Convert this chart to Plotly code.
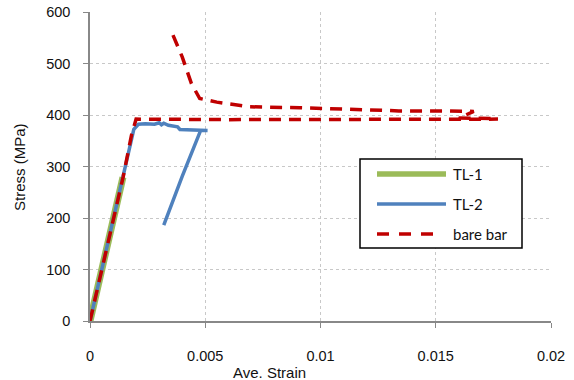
import plotly.graph_objects as go

# ---- data ----
tl1_strain = [0, 0.0005, 0.001, 0.00143]
tl1_stress = [0, 98, 196, 279]

tl2_strain = [0, 0.0005, 0.001, 0.0015, 0.0017, 0.0019, 0.0021, 0.0024, 0.0028, 0.0030,
              0.0031, 0.0032, 0.0034, 0.0036, 0.0038, 0.0039, 0.0044, 0.0051, 0.0048,
              0.0040, 0.0032]
tl2_stress = [0, 98, 196, 295, 340, 372, 382, 383, 382, 385,
              381, 384, 380, 379, 377, 372, 371, 370, 370,
              281, 186]

bare_strain = [0, 0.0005, 0.001, 0.00144, 0.0018, 0.002, 0.006, 0.010, 0.014, 0.0177,
               None,
               0.0036, 0.0040, 0.0044, 0.00476, 0.0055, 0.0069, 0.0091, 0.0112, 0.0134,
               0.0156, 0.01665, 0.0160, 0.0177]
bare_stress = [0, 97, 195, 280, 361, 392, 391, 391, 391, 392,
               None,
               555, 513, 461, 432, 425, 416, 414, 411, 408,
               408, 407, 394, 393]

series_names = ["TL-1", "TL-2", "bare bar"]
series_colors = ["#9BBB59", "#4F81BD", "#C00000"]

x_ticks = [0, 0.005, 0.01, 0.015, 0.02]
y_ticks = [0, 100, 200, 300, 400, 500, 600]
x_title = "Ave. Strain"
y_title = "Stress (MPa)"

fig = go.Figure()
fig.add_trace(go.Scatter(x=tl1_strain, y=tl1_stress, mode="lines", name=series_names[0],
                         line=dict(color=series_colors[0], width=7), showlegend=False))
fig.add_trace(go.Scatter(x=tl2_strain, y=tl2_stress, mode="lines", name=series_names[1],
                         line=dict(color=series_colors[1], width=3.5), showlegend=False))
fig.add_trace(go.Scatter(x=bare_strain, y=bare_stress, mode="lines", name=series_names[2],
                         line=dict(color=series_colors[2], width=3.5, dash="12px,8px"),
                         connectgaps=False, showlegend=False))

tick_font = dict(family="Liberation Sans, Arial, sans-serif", size=14.5, color="#111")
title_font = dict(family="Liberation Sans, Arial, sans-serif", size=15, color="#111")

fig.update_layout(
    width=574, height=380,
    margin=dict(l=90, r=23, t=12, b=59, autoexpand=False),
    paper_bgcolor="white", plot_bgcolor="white",
    font=tick_font,
    xaxis=dict(range=[0, 0.02], tickvals=x_ticks, ticktext=[str(v) for v in x_ticks],
               showgrid=True, gridcolor="#c8c8c8", griddash="3px,3px", gridwidth=1,
               zeroline=False, showline=True, linecolor="#888", linewidth=1.5,
               ticks="outside", ticklen=5, tickcolor="#888", automargin=False,
               ticklabelstandoff=16, tickfont=tick_font),
    yaxis=dict(range=[0, 600], tickvals=y_ticks,
               showgrid=True, gridcolor="#c8c8c8", griddash="3px,3px", gridwidth=1,
               zeroline=False, showline=True, linecolor="#888", linewidth=1.5,
               ticks="outside", ticklen=5, tickcolor="#888", automargin=False,
               ticklabelstandoff=10, tickfont=tick_font),
)

# ---- helpers: pixel -> paper coordinates of the plot area ----
def px_x(p):
    return (p - 90) / 461.0

def px_y(p):
    return (321 - p) / 309.0

# axis titles
fig.add_annotation(xref="paper", yref="paper", x=px_x(269), y=px_y(372), text=x_title,
                   showarrow=False, xanchor="center", yanchor="middle", font=title_font)
fig.add_annotation(xref="paper", yref="paper", x=px_x(20), y=px_y(167), text=y_title,
                   showarrow=False, xanchor="center", yanchor="middle", textangle=-90,
                   font=title_font)

# ---- manual legend (box, line samples, labels) ----
fig.add_shape(type="rect", xref="paper", yref="paper",
              x0=px_x(360), x1=px_x(522), y0=px_y(248), y1=px_y(159),
              line=dict(color="black", width=1.5), fillcolor="white", layer="above")
leg_y = [174, 204, 234]
leg_widths = [5.5, 3.5, 3.5]
leg_dash = ["solid", "solid", "12px,10px"]
leg_x1 = [446, 446, 433]
for i in range(3):
    fig.add_shape(type="line", xref="paper", yref="paper",
                  x0=px_x(377), x1=px_x(leg_x1[i]), y0=px_y(leg_y[i]), y1=px_y(leg_y[i]),
                  line=dict(color=series_colors[i], width=leg_widths[i], dash=leg_dash[i]),
                  layer="above")
    fig.add_annotation(xref="paper", yref="paper", x=px_x(451), y=px_y(leg_y[i]),
                       text=series_names[i], showarrow=False, xanchor="left", yanchor="middle",
                       font=dict(family="Lato, Carlito, sans-serif", size=15, color="#111"))

fig.write_html("out.html")
